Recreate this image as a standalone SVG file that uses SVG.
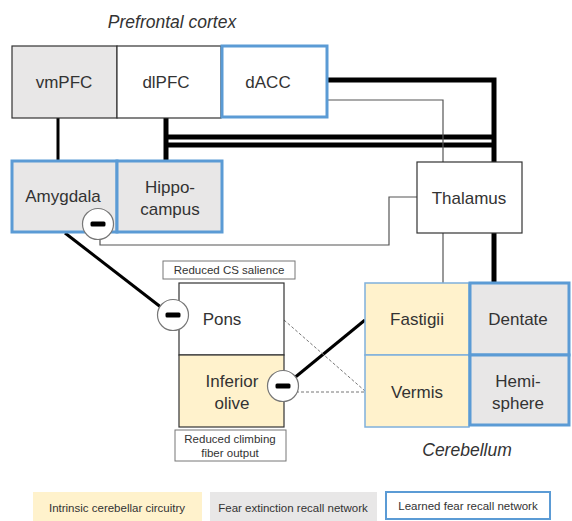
<svg xmlns="http://www.w3.org/2000/svg" width="572" height="521" viewBox="0 0 572 521">
<style>
text{font-family:"Liberation Sans",Arial,sans-serif;fill:#333;text-anchor:middle}
.lbl{font-size:17px}
.it{font-style:italic;font-size:17.5px}
.sm{font-size:11.5px}
.plain{fill:#fff;stroke:#333;stroke-width:1.2}
.gray{fill:#e8e7e7;stroke:#333;stroke-width:1.2}
.grayb{fill:#e8e7e7;stroke:#5b9bd5;stroke-width:3}
.whiteb{fill:#fff;stroke:#5b9bd5;stroke-width:3}
.tan{fill:#fff2cc;stroke:#333;stroke-width:1.2}
.tanb{fill:#fff2cc;stroke:#7fb0dc;stroke-width:1.5}
.note{fill:#fff;stroke:#777;stroke-width:1}
.thick{stroke:#000;stroke-width:5;fill:none}
.med{stroke:#000;stroke-width:3;fill:none}
.thin{stroke:#555;stroke-width:1.2;fill:none}
.dash{stroke:#777;stroke-width:1;stroke-dasharray:3 2;fill:none}
</style>
<defs>
<g id="minus"><circle cx="0" cy="0" r="15.5" fill="#fff" stroke="#777" stroke-width="1.2"/><rect x="-7.5" y="-2.5" width="15" height="5" rx="1.5" fill="#000"/></g>
</defs>
<text class="it" x="172" y="28">Prefrontal cortex</text>
<g id="connectors">
<line class="med" x1="58" y1="118" x2="58" y2="160"/>
<polyline class="thick" points="166,118 166,160"/>
<polyline class="thick" points="166,137 494,137"/>
<polyline class="thick" points="166,145 494,145"/>
<polyline class="thick" points="327,80 494,80 494,162"/>
<polyline class="thin" points="327,100 443,100 443,162"/>
<polyline class="thin" points="100,236 100,245 389,245 389,197 417,197"/>
<line class="thin" x1="443" y1="233" x2="443" y2="283"/>
<line class="thick" x1="494" y1="233" x2="494" y2="283"/>
<line class="med" x1="65" y1="233" x2="162" y2="308"/>
<line class="med" x1="293" y1="379" x2="365" y2="320"/>
<line class="dash" x1="284" y1="320" x2="365" y2="391"/>
<line class="dash" x1="296" y1="392" x2="365" y2="392"/>
</g>
<g id="vmPFC"><rect class="gray" x="12" y="46" width="105" height="72"/><text class="lbl" x="64" y="88">vmPFC</text></g>
<g id="dlPFC"><rect class="plain" x="117" y="46" width="104" height="72"/><text class="lbl" x="166" y="88">dlPFC</text></g>
<g id="dACC"><rect class="whiteb" x="222" y="46" width="105" height="71"/><text class="lbl" x="268" y="88">dACC</text></g>
<g id="Amygdala"><rect class="grayb" x="12" y="161" width="105" height="71"/><text class="lbl" x="63" y="202">Amygdala</text></g>
<g id="Hippocampus"><rect class="grayb" x="117" y="161" width="105" height="71"/><text class="lbl" x="170" y="193">Hippo-</text><text class="lbl" x="170" y="215">campus</text></g>
<g id="Thalamus"><rect class="plain" x="417" y="162" width="105" height="71"/><text class="lbl" x="469" y="204">Thalamus</text></g>
<g id="ReducedCS"><rect class="note" x="163" y="261" width="132" height="18"/><text class="sm" x="229" y="274">Reduced CS salience</text></g>
<g id="Pons"><rect class="plain" x="179" y="283" width="105" height="72"/><text class="lbl" x="222" y="325">Pons</text></g>
<g id="InferiorOlive"><rect class="tan" x="179" y="355" width="105" height="72"/><text class="lbl" x="232" y="387">Inferior</text><text class="lbl" x="232" y="409">olive</text></g>
<g id="ReducedClimbing"><rect class="note" x="175" y="430" width="111" height="31"/><text class="sm" x="230" y="443">Reduced climbing</text><text class="sm" x="230" y="457">fiber output</text></g>
<g id="Fastigii"><rect class="tanb" x="365" y="283" width="104" height="72"/><text class="lbl" x="417" y="325">Fastigii</text></g>
<g id="Vermis"><rect class="tanb" x="365" y="355" width="104" height="72"/><text class="lbl" x="417" y="398">Vermis</text></g>
<g id="Dentate"><rect class="grayb" x="470" y="283" width="99" height="72"/><text class="lbl" x="518" y="325">Dentate</text></g>
<g id="Hemisphere"><rect class="grayb" x="470" y="355" width="99" height="70"/><text class="lbl" x="518" y="387">Hemi-</text><text class="lbl" x="518" y="409">sphere</text></g>
<text class="it" x="467" y="456">Cerebellum</text>
<g id="minus1"><use href="#minus" x="98" y="224"/></g>
<g id="minus2"><use href="#minus" x="173" y="315"/></g>
<g id="minus3"><use href="#minus" x="283" y="386"/></g>
<g id="legend">
<rect x="33" y="492" width="169" height="29" fill="#fff2cc"/>
<text class="sm" x="117" y="512">Intrinsic cerebellar circuitry</text>
<rect x="210" y="492" width="167" height="29" fill="#e8e7e7"/>
<text class="sm" x="293" y="512">Fear extinction recall network</text>
<rect x="386" y="492" width="164" height="27" fill="#fff" stroke="#5b9bd5" stroke-width="2"/>
<text class="sm" x="468" y="510">Learned fear recall network</text>
</g>
</svg>
